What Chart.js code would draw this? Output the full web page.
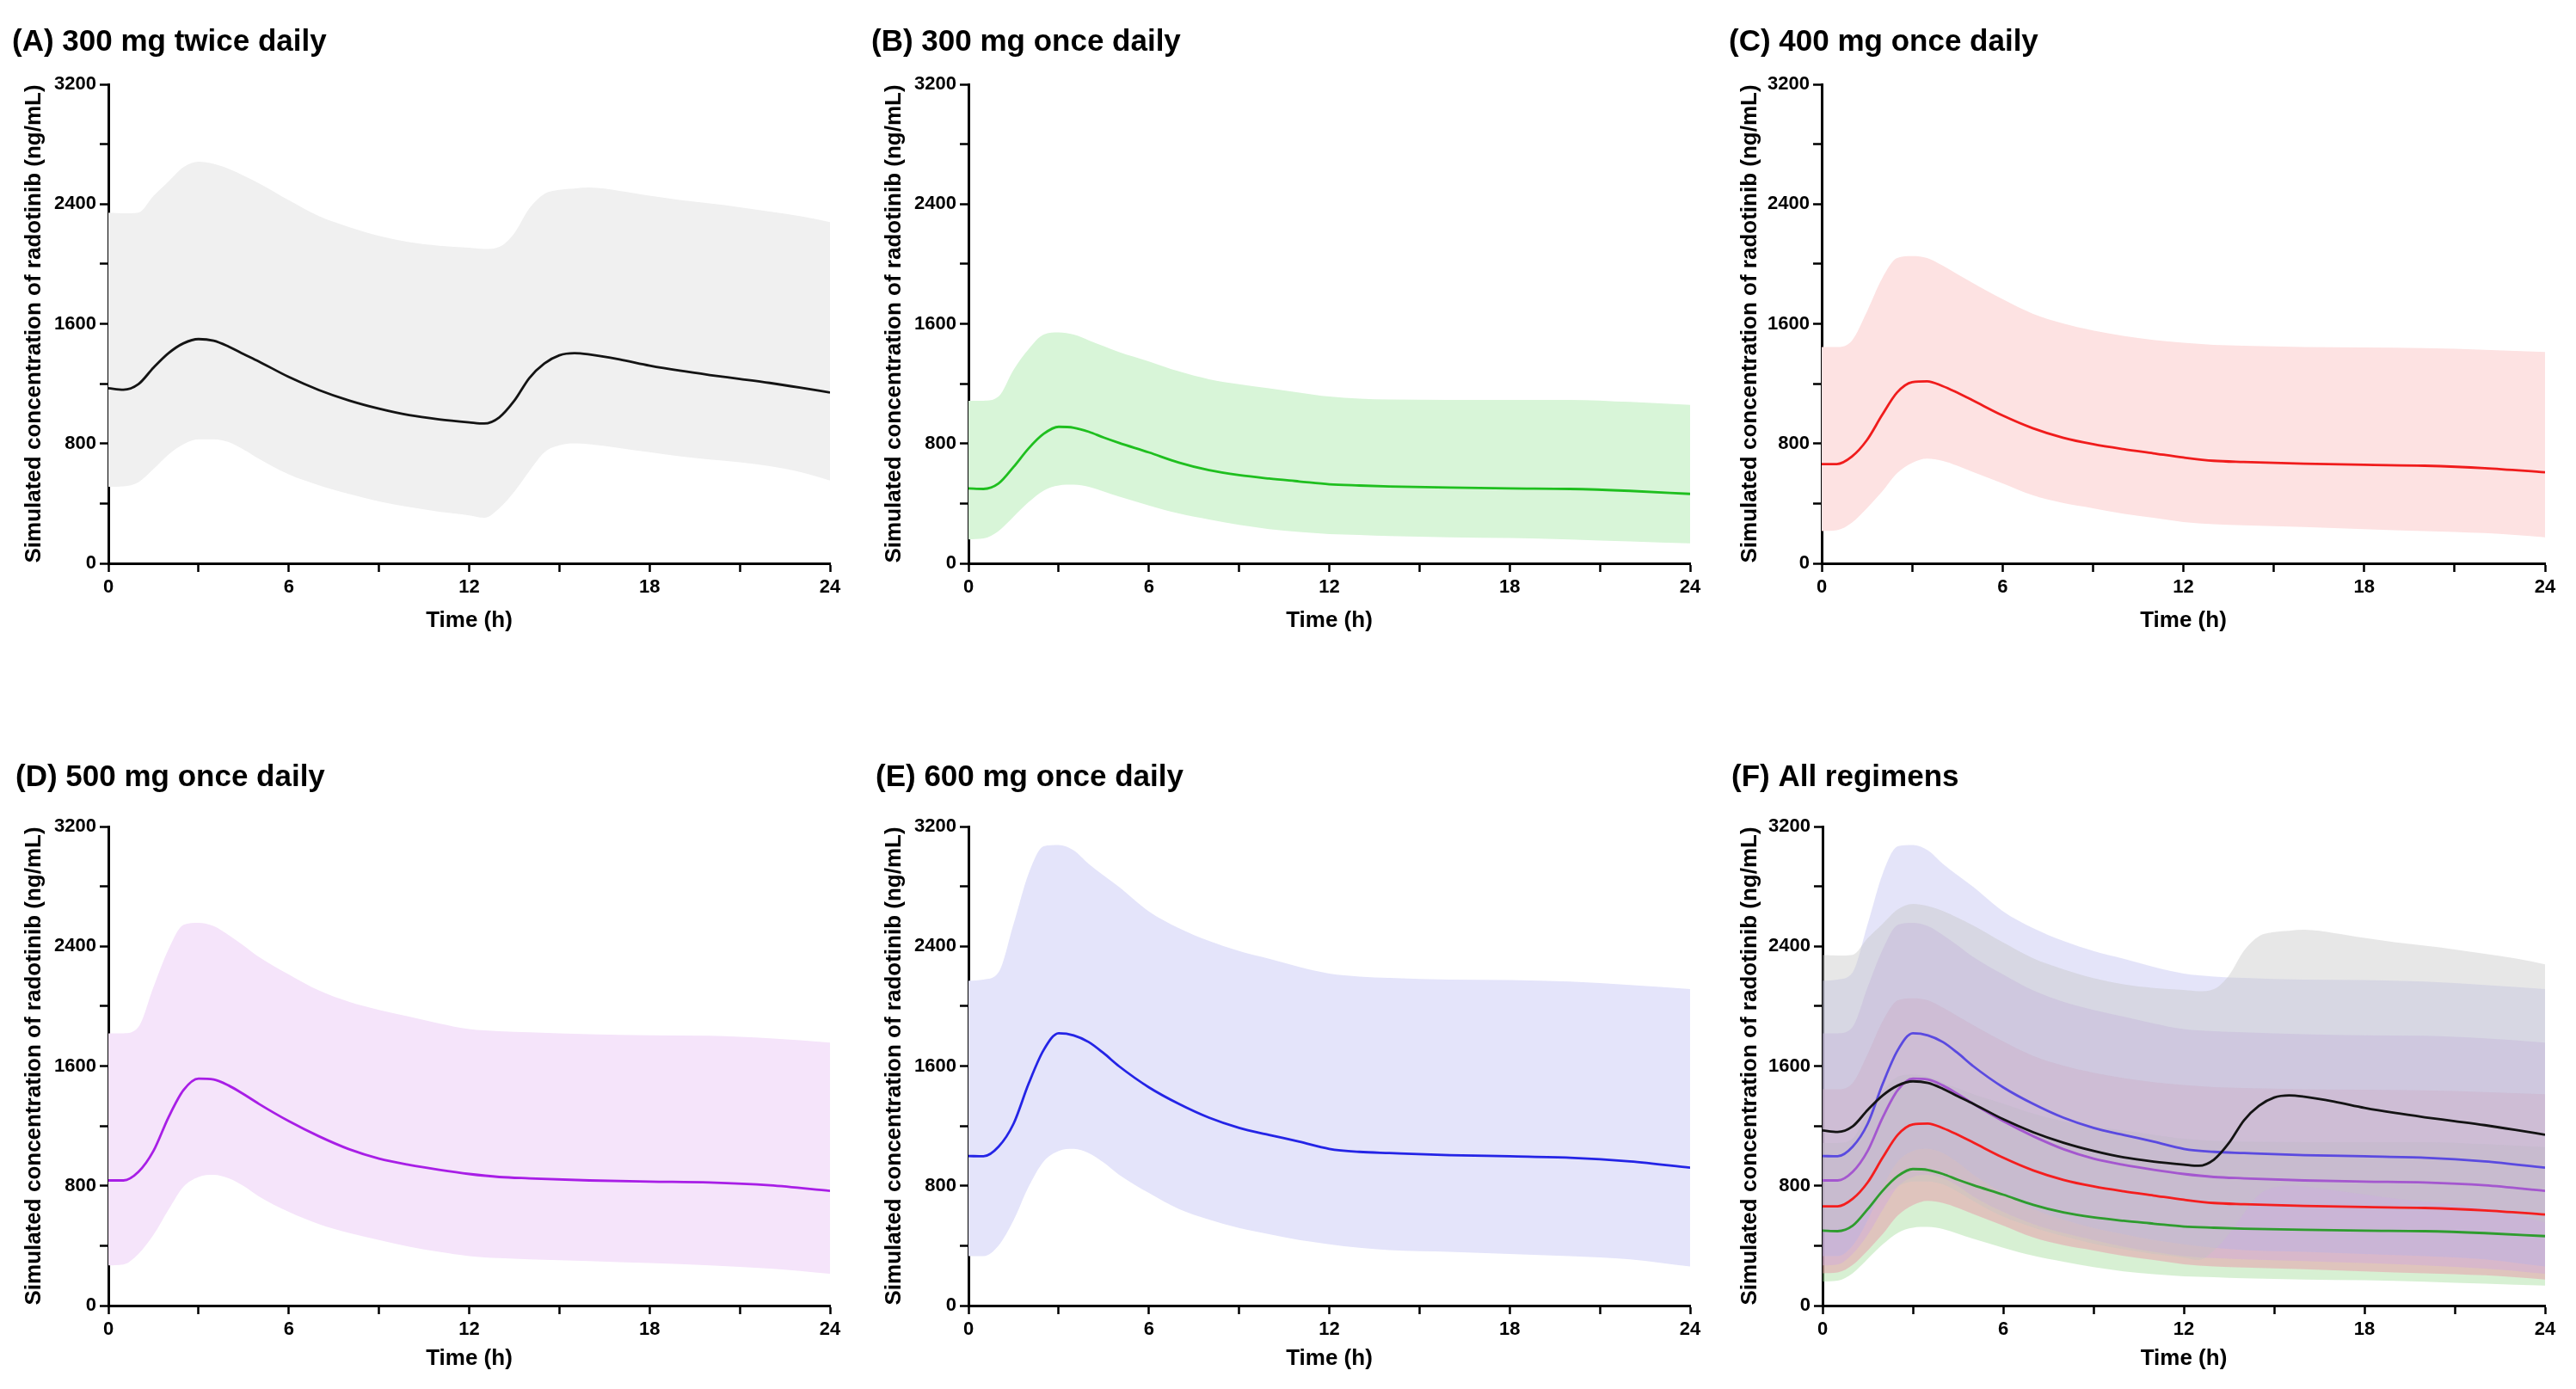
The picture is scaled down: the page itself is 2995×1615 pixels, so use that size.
<!DOCTYPE html>
<html><head><meta charset="utf-8">
<script src="https://cdn.jsdelivr.net/npm/chart.js@4.4.0/dist/chart.umd.min.js"></script>
<style>
html,body{margin:0;padding:0;background:#fff;}
body{width:2995px;height:1615px;position:relative;overflow:hidden;}
.p{position:absolute;}
</style></head><body>
<div class="p" style="left:0px;top:0px;width:1000px;height:800px"><canvas id="cA"></canvas></div>
<div class="p" style="left:1000px;top:0px;width:1000px;height:800px"><canvas id="cB"></canvas></div>
<div class="p" style="left:2000px;top:0px;width:995px;height:800px"><canvas id="cC"></canvas></div>
<div class="p" style="left:0px;top:800px;width:1000px;height:815px"><canvas id="cD"></canvas></div>
<div class="p" style="left:1000px;top:800px;width:1000px;height:815px"><canvas id="cE"></canvas></div>
<div class="p" style="left:2000px;top:800px;width:995px;height:815px"><canvas id="cF"></canvas></div>
<script>
// ---- data ----
const timeTwice = [0,0.5,1,1.5,2,2.5,3,3.5,4,4.5,5,6,7,8,9,10,11,12,12.5,13,13.5,14,14.5,15,15.5,16,17,18,19,20,21,22,23,24];
const timeOnce  = [0,0.5,1,1.5,2,2.5,3,3.5,4,4.5,5,6,7,8,9,10,11,12,13,14,16,18,20,22,24];

const medA = [1170,1160,1197,1307,1404,1470,1498,1487,1448,1398,1349,1245,1158,1088,1033,990,962,942,934,975,1086,1238,1335,1390,1404,1395,1362,1321,1287,1258,1232,1205,1174,1141];
const hiA  = [2343,2338,2343,2454,2551,2647,2683,2668,2635,2590,2540,2426,2320,2247,2188,2146,2122,2108,2100,2114,2205,2371,2468,2495,2504,2510,2488,2456,2428,2404,2379,2350,2320,2280];
const loA  = [511,514,542,630,727,796,829,829,810,760,700,595,522,464,414,376,345,321,304,368,478,616,741,788,801,796,770,742,715,694,675,649,610,553];

const medB = [500,497,533,644,768,865,912,906,879,840,805,741,673,622,589,566,547,528,520,514,506,500,497,484,464];
const hiB  = [1086,1086,1114,1293,1431,1528,1542,1528,1490,1450,1412,1349,1282,1230,1197,1169,1141,1114,1100,1094,1092,1092,1092,1078,1058];
const loB  = [160,166,216,312,409,486,520,525,511,480,446,387,333,293,257,229,210,196,190,182,174,169,160,146,133];

const medC = [663,663,713,823,989,1141,1210,1216,1185,1140,1090,988,903,840,796,763,735,707,685,677,666,658,652,636,608];
const hiC  = [1445,1445,1487,1680,1901,2039,2053,2039,1990,1932,1875,1765,1668,1603,1556,1520,1492,1473,1459,1454,1445,1442,1437,1426,1412];
const loC  = [216,221,271,368,478,602,671,699,685,652,612,535,455,403,368,332,304,276,262,254,243,229,216,202,174];

const medD = [836,836,893,1033,1258,1440,1516,1510,1470,1412,1348,1232,1131,1045,982,940,907,879,859,850,836,828,822,803,766];
const hiD  = [1819,1819,1861,2128,2380,2543,2557,2535,2475,2405,2330,2212,2105,2029,1975,1931,1885,1847,1833,1825,1813,1805,1802,1785,1757];
const loD  = [269,275,345,472,640,794,859,873,850,798,730,626,545,486,438,393,359,331,317,309,298,284,269,247,213];

const medE = [999,997,1061,1215,1482,1707,1819,1805,1760,1685,1600,1458,1347,1255,1187,1140,1095,1047,1027,1019,1005,997,988,963,921];
const hiE  = [2170,2178,2226,2549,2886,3068,3076,3040,2950,2872,2798,2633,2521,2436,2368,2316,2262,2218,2198,2189,2178,2175,2164,2142,2114];
const loE  = [331,331,401,570,794,963,1033,1047,1019,955,875,752,645,575,519,477,438,410,387,371,359,345,331,309,261];

const titles = ['(A) 300 mg twice daily','(B) 300 mg once daily','(C) 400 mg once daily','(D) 500 mg once daily','(E) 600 mg once daily','(F) All regimens'];
const yTicksMajor = [0,800,1600,2400,3200];
const xTicksMajor = [0,6,12,18,24];
const yAxisTitle = 'Simulated concentration of radotinib (ng/mL)';
const xAxisTitle = 'Time (h)';

// ---- helpers ----
const FF = "Arial, 'Liberation Sans', Helvetica, sans-serif";
function pts(t, v){ return t.map((x,i)=>({x:x, y:v[i]})); }
function band(t, hi, lo, color, order){
  return [
    {data:pts(t,hi), borderWidth:0, borderColor:'rgba(0,0,0,0)', backgroundColor:color, fill:'+1', pointRadius:0, order:order, cubicInterpolationMode:'monotone'},
    {data:pts(t,lo), borderWidth:0, borderColor:'rgba(0,0,0,0)', backgroundColor:'rgba(0,0,0,0)', fill:false, pointRadius:0, order:order, cubicInterpolationMode:'monotone'}
  ];
}
function line(t, v, color, order){
  return {data:pts(t,v), borderWidth:2.8, borderColor:color, fill:false, pointRadius:0, order:order, cubicInterpolationMode:'monotone'};
}

function makeChart(id, title, datasets, L){
  new Chart(document.getElementById(id), {
    type:'line',
    data:{datasets:datasets},
    options:{
      responsive:true, maintainAspectRatio:false, animation:false, devicePixelRatio:1,
      layout:{padding:{left:L.padL, right:L.padR, top:0, bottom:0}},
      plugins:{
        legend:{display:false}, tooltip:{enabled:false},
        title:{display:true, text:title, align:'start', color:'#000',
               font:{family:FF, size:35, weight:'bold', lineHeight:1},
               padding:{top:L.tTop, bottom:L.tBot}}
      },
      scales:{
        x:{type:'linear', min:0, max:24,
           afterFit:s=>{s.height=L.xH;},
           border:{display:true, color:'#000', width:3},
           grid:{display:true, drawOnChartArea:false, drawTicks:true, tickLength:10, tickColor:'#000', tickWidth:2.5},
           ticks:{stepSize:3, autoSkip:false, maxRotation:0, color:'#000', padding:5,
                  font:{family:FF, size:22, weight:'bold', lineHeight:1.2},
                  callback:v=> xTicksMajor.includes(v) ? String(v) : ''},
           title:{display:true, text:xAxisTitle, color:'#000', font:{family:FF, size:26, weight:'bold', lineHeight:1},
                  padding:{top:0, bottom:L.xtBot}}
        },
        y:{min:0, max:3200,
           afterFit:s=>{s.width=L.yW;},
           border:{display:true, color:'#000', width:3},
           grid:{display:true, drawOnChartArea:false, drawTicks:true, tickLength:10, tickColor:'#000', tickWidth:2.5},
           ticks:{stepSize:400, autoSkip:false, color:'#000', padding:4,
                  font:{family:FF, size:22, weight:'bold', lineHeight:1.2},
                  callback:v=> yTicksMajor.includes(v) ? String(v) : ''},
           title:{display:true, text:yAxisTitle, color:'#000', font:{family:FF, size:26, weight:'bold', lineHeight:1},
                  padding:{top:L.ytTop, bottom:0}}
        }
      }
    }
  });
}

const topRow = {tTop:32, tBot:31, xH:145, xtBot:65};
const botRow = {tTop:87, tBot:39, xH:97, xtBot:22};

makeChart('cA', titles[0], [line(timeTwice, medA, '#141414', 0), ...band(timeTwice, hiA, loA, '#f0f0f0', 5)],
  Object.assign({padL:14, yW:112, padR:35, ytTop:13}, topRow));
makeChart('cB', titles[1], [line(timeOnce, medB, '#1fbf1f', 0), ...band(timeOnce, hiB, loB, '#d8f5d8', 5)],
  Object.assign({padL:13, yW:113, padR:35, ytTop:14}, topRow));
makeChart('cC', titles[2], [line(timeOnce, medC, '#f01c1c', 0), ...band(timeOnce, hiC, loC, '#fde2e2', 5)],
  Object.assign({padL:10, yW:108, padR:36, ytTop:12}, topRow));
makeChart('cD', titles[3], [line(timeOnce, medD, '#a81ee6', 0), ...band(timeOnce, hiD, loD, '#f5e4fa', 5)],
  Object.assign({padL:18, yW:108, padR:35, ytTop:9}, botRow));
makeChart('cE', titles[4], [line(timeOnce, medE, '#2424e6', 0), ...band(timeOnce, hiE, loE, '#e4e4fa', 5)],
  Object.assign({padL:18, yW:108, padR:35, ytTop:9}, botRow));

makeChart('cF', titles[5], [
  line(timeTwice, medA, '#141414', 0),
  line(timeOnce, medE, '#5a4ae0', 1),
  line(timeOnce, medD, '#a457cf', 2),
  line(timeOnce, medC, '#f41e1e', 3),
  line(timeOnce, medB, '#2e9c2e', 4),
  ...band(timeTwice, hiA, loA, 'rgba(195,195,195,0.40)', 10),
  ...band(timeOnce, hiE, loE, 'rgba(175,175,238,0.34)', 11),
  ...band(timeOnce, hiD, loD, 'rgba(205,165,225,0.40)', 12),
  ...band(timeOnce, hiC, loC, 'rgba(235,135,160,0.42)', 13),
  ...band(timeOnce, hiB, loB, 'rgba(160,220,150,0.42)', 14)
], Object.assign({padL:13, yW:106, padR:36, ytTop:9}, botRow));
</script>
</body></html>
